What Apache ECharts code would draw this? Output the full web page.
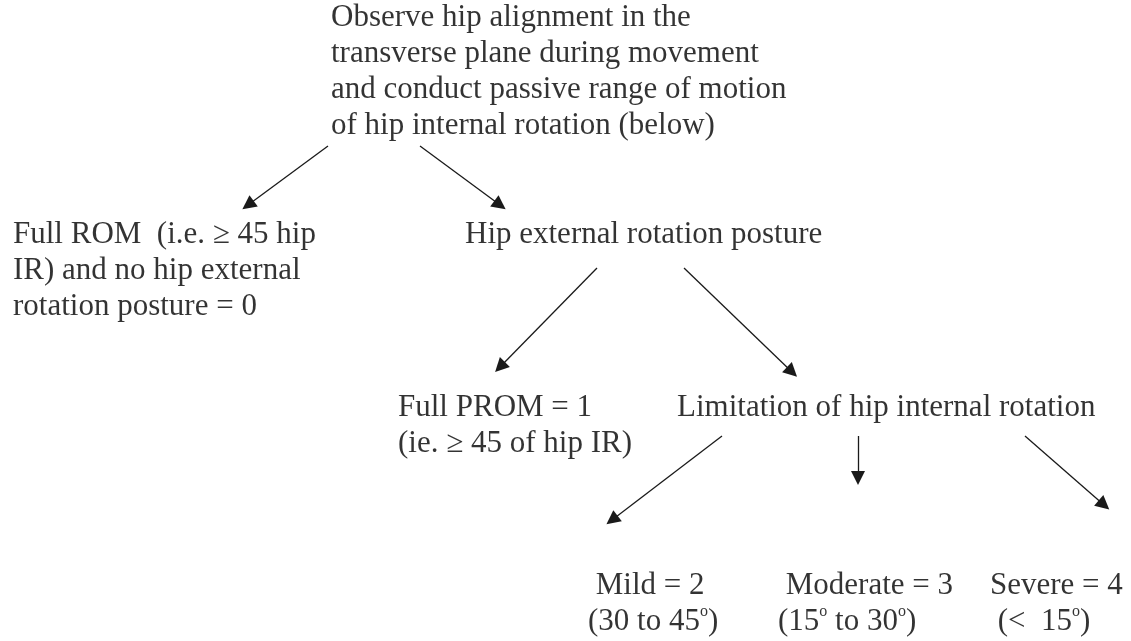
<!DOCTYPE html>
<html>
<head>
<meta charset="utf-8">
<script src="https://cdn.jsdelivr.net/npm/echarts@6/dist/echarts.min.js"></script>
<style>
  html, body { margin: 0; padding: 0; background: #fff; }
  #chart { width: 1131px; height: 641px; }
</style>
</head>
<body>
<div id="chart"></div>
<script>
// node texts ({s|o} = superscript degree)
const nodeNames = ['root', 'fullRom', 'extPosture', 'fullProm', 'limitation', 'mild', 'moderate', 'severe']
const nodeTexts = [
  'Observe hip alignment in the\ntransverse plane during movement\nand conduct passive range of motion\nof hip internal rotation (below)',
  'Full ROM  (i.e. ≥ 45 hip\nIR) and no hip external\nrotation posture = 0',
  'Hip external rotation posture',
  'Full PROM = 1\n(ie. ≥ 45 of hip IR)',
  'Limitation of hip internal rotation',
  ' Mild = 2\n(30 to 45{s|o})',
  ' Moderate = 3\n(15{s|o} to 30{s|o})',
  'Severe = 4\n (<  15{s|o})'
]
// top-left anchor of each text block
const nodeX = [331, 13, 465, 398, 677, 588, 778, 990]
const nodeY = [0, 217, 217, 390, 390, 568, 568, 568]

// arrows: start and tip
const arrowFrom = [[328, 146], [420, 146], [597, 268], [684, 268], [722, 436], [858, 436], [1025, 436]]
const arrowTo = [[248, 205], [500, 205], [500, 367], [792, 372], [612, 520], [858, 478], [1104, 505]]

const chart = echarts.init(document.getElementById('chart'))

const textData = nodeNames.map((name, i) => ({
  name,
  value: [nodeX[i], nodeY[i]],
  label: { formatter: nodeTexts[i] }
}))

const arrowData = arrowFrom.map((from, i) => ({ coords: [from, arrowTo[i]] }))

chart.setOption({
  animation: false,
  backgroundColor: '#fff',
  grid: { left: 0, right: 0, top: 0, bottom: 0 },
  xAxis: { type: 'value', min: 0, max: 1131, show: false },
  yAxis: { type: 'value', min: 0, max: 641, inverse: true, show: false },
  series: [
    {
      type: 'scatter',
      symbolSize: 0,
      silent: true,
      clip: false,
      data: textData,
      label: {
        show: true,
        position: [0, 0],
        align: 'left',
        verticalAlign: 'top',
        fontFamily: 'Liberation Serif',
        fontSize: 31,
        lineHeight: 36,
        color: '#000',
        rich: {
          s: { fontFamily: 'Liberation Serif', fontSize: 16, verticalAlign: 'top', lineHeight: 30, color: '#000' }
        }
      }
    },
    {
      type: 'lines',
      coordinateSystem: 'cartesian2d',
      silent: true,
      symbol: ['none', 'triangle'],
      symbolSize: [11, 14],
      lineStyle: { color: '#1a1a1a', width: 1.3, opacity: 1 },
      data: arrowData
    }
  ]
})
</script>
</body>
</html>
